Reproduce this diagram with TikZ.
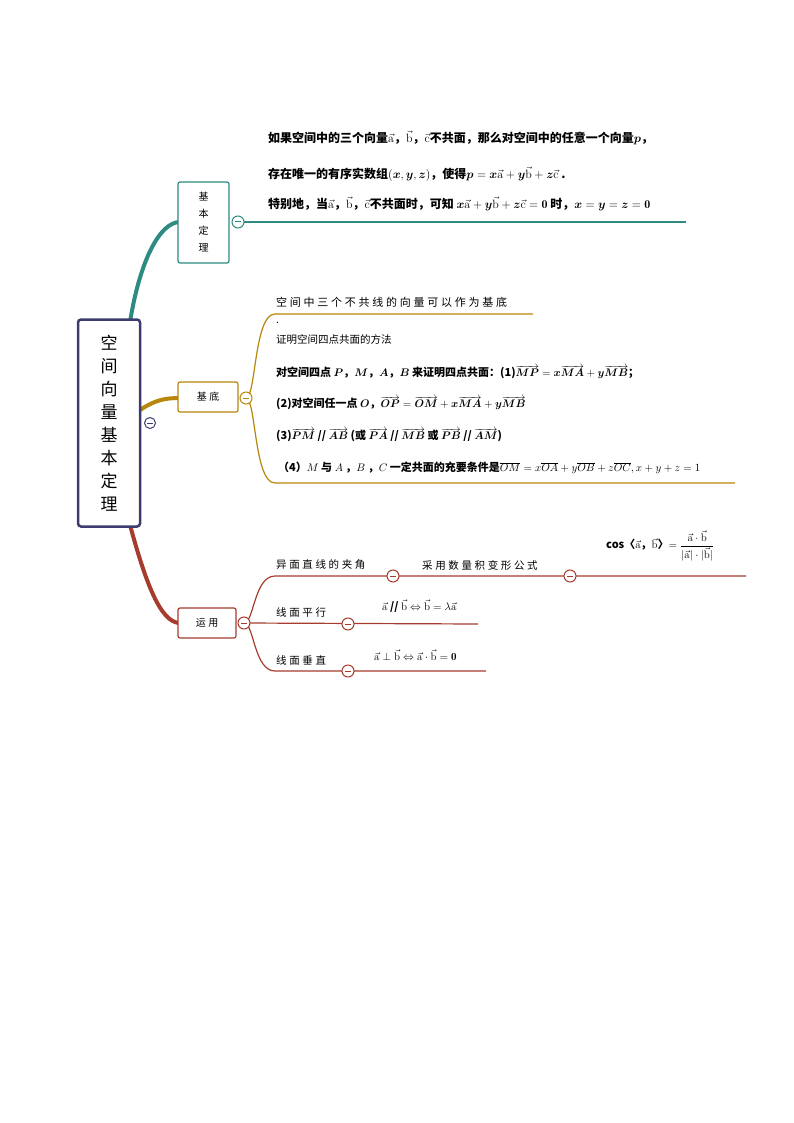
\documentclass[tikz,border=0pt]{standalone}
\usepackage{amsmath}
\usepackage{fontspec}
\newfontfamily\cjk{Noto Sans CJK SC}
\newfontfamily\cjksp[LetterSpace=25]{Noto Sans CJK SC}
\definecolor{teal1}{RGB}{46,139,130}
\definecolor{gold1}{RGB}{184,134,11}
\definecolor{red1}{RGB}{165,60,45}
\definecolor{navy1}{RGB}{60,60,110}
\newcommand{\va}{\vec{\mathrm{a}}}
\newcommand{\vb}{\vec{\mathrm{b}}}
\newcommand{\vc}{\vec{\mathrm{c}}}
\begin{document}
\begin{tikzpicture}[x=1pt,y=-1pt,
  txt/.style={anchor=west,inner sep=0pt,font=\cjk\fontsize{10.5}{12}\selectfont},
  stxt/.style={anchor=west,inner sep=0pt,font=\cjksp\fontsize{10.5}{12}\selectfont},
  btxt/.style={anchor=west,inner sep=0pt,font=\cjk\bfseries\fontsize{11}{13}\selectfont},
  ttxt/.style={anchor=west,inner sep=0pt,font=\cjk\bfseries\fontsize{12}{14}\selectfont},
  tog/.style={circle,draw,fill=white,minimum size=12pt,inner sep=0pt,line width=1pt,
    path picture={\draw[line width=1pt] ([xshift=-3pt]path picture bounding box.center) -- ([xshift=3pt]path picture bounding box.center);}},
  bx/.style={draw,rounded corners=2pt,line width=1.2pt,fill=white,font=\cjksp\fontsize{10}{12}\selectfont}]
\useasboundingbox (0,0) rectangle (794,1123);
\draw[teal1,line width=4pt] (130,322) .. controls (140,260) and (160,222) .. (180,222);
\draw[gold1,line width=4pt] (140,410) .. controls (155,400) and (165,398) .. (180,398);
\draw[red1,line width=4pt] (130,525) .. controls (145,580) and (160,623) .. (180,623);
\node[draw=navy1,line width=2.5pt,rounded corners=3pt,minimum width=62pt,minimum height=207pt,fill=white,align=center,font=\cjk\fontsize{17}{23}\selectfont] (c) at (109,423) {空\\间\\向\\量\\基\\本\\定\\理};
\node[tog,draw=navy1,minimum size=11pt] (cc) at (150,423) {};
\node[bx,draw=teal1,minimum width=51pt,minimum height=81pt,align=center,font=\cjk\fontsize{10}{17}\selectfont] (b1) at (203.5,222.5) {基\\本\\定\\理};
\coordinate (e1) at (686,222);
\draw[teal1,line width=1.2pt] (238,222) -- (e1);
\node[tog,draw=teal1] (t1) at (238,222) {};
\node[ttxt] at (268,138) {如果空间中的三个向量$\va$，$\vb$，$\vc$不共面，那么对空间中的任意一个向量$\boldsymbol{p}$，};
\node[ttxt] at (268,174) {存在唯一的有序实数组$(\boldsymbol{x},\boldsymbol{y},\boldsymbol{z})$，使得$\boldsymbol{p}=\boldsymbol{x}\va+\boldsymbol{y}\vb+\boldsymbol{z}\vc$ .};
\node[ttxt] at (268,204) {特别地，当$\va$，$\vb$，$\vc$不共面时，可知 $\boldsymbol{x}\va+\boldsymbol{y}\vb+\boldsymbol{z}\vc=\mathbf{0}$ 时，$\boldsymbol{x}=\boldsymbol{y}=\boldsymbol{z}=\mathbf{0}$};
\node[bx,draw=gold1,minimum width=60pt,minimum height=30pt] (b2) at (208,397) {基底};
\draw[gold1,line width=1.2pt] (246,398) .. controls (256,398) and (254,314) .. (275,314) -- (533,314);
\draw[gold1,line width=1.2pt] (246,398) .. controls (256,398) and (254,483) .. (275,483) -- (735,483);
\node[tog,draw=gold1] (t2) at (246,398) {};
\node[stxt,font=\cjksp\fontsize{11}{12}\selectfont] at (276,302) {空间中三个不共线的向量可以作为基底};
\node[txt] at (276,323) {.};
\node[txt] at (276,340) {证明空间四点共面的方法};
\node[btxt] at (276,372) {对空间四点 $\boldsymbol{P}$，$\boldsymbol{M}$，$\boldsymbol{A}$，$\boldsymbol{B}$ 来证明四点共面：(1)$\overrightarrow{\boldsymbol{MP}}=\boldsymbol{x}\overrightarrow{\boldsymbol{MA}}+\boldsymbol{y}\overrightarrow{\boldsymbol{MB}}$；};
\node[btxt] at (276,403) {(2)对空间任一点 $\boldsymbol{O}$，$\overrightarrow{\boldsymbol{OP}}=\overrightarrow{\boldsymbol{OM}}+\boldsymbol{x}\overrightarrow{\boldsymbol{MA}}+\boldsymbol{y}\overrightarrow{\boldsymbol{MB}}$};
\node[btxt] at (276,435) {(3)$\overrightarrow{\boldsymbol{PM}}$ // $\overrightarrow{\boldsymbol{AB}}$ (或 $\overrightarrow{\boldsymbol{PA}}$ // $\overrightarrow{\boldsymbol{MB}}$ 或 $\overrightarrow{\boldsymbol{PB}}$ // $\overrightarrow{\boldsymbol{AM}}$)};
\node[btxt] at (278,468) {（4）$M$ 与 $A$ ，$B$ ，$C$ 一定共面的充要条件是$\overline{OM}=x\overline{OA}+y\overline{OB}+z\overline{OC},x+y+z=1$};
\node[bx,draw=red1,minimum width=58pt,minimum height=30pt] (b3) at (207,623) {运用};
\coordinate (e31) at (746,576);
\coordinate (e32) at (478,624);
\coordinate (e33) at (486,671);
\draw[red1,line width=1.2pt] (244,623) .. controls (254,623) and (254,576) .. (275,576) -- (e31);
\draw[red1,line width=1.2pt] (244,623) -- (e32);
\draw[red1,line width=1.2pt] (244,623) .. controls (254,623) and (254,671) .. (275,671) -- (e33);
\node[tog,draw=red1] (t3) at (244,623) {};
\node[tog,draw=red1] (t31) at (393,576) {};
\node[tog,draw=red1] (t32) at (570,576) {};
\node[tog,draw=red1] (t33) at (348,624) {};
\node[tog,draw=red1] (t34) at (348,671) {};
\node[stxt] at (276,565) {异面直线的夹角};
\node[stxt] at (422,565) {采用数量积变形公式};
\node[stxt] at (276,613) {线面平行};
\node[stxt] at (276,660) {线面垂直};
\node[btxt] at (606,546) {cos〈$\va$，$\vb$〉$=\dfrac{\va\cdot\vb}{|\va|\cdot|\vb|}$};
\node[btxt] at (382,606) {$\va$ // $\vb\Leftrightarrow\vb=\lambda\va$};
\node[btxt] at (374,655) {$\va\perp\vb\Leftrightarrow\va\cdot\vb=\mathbf{0}$};
\end{tikzpicture}
\end{document}
